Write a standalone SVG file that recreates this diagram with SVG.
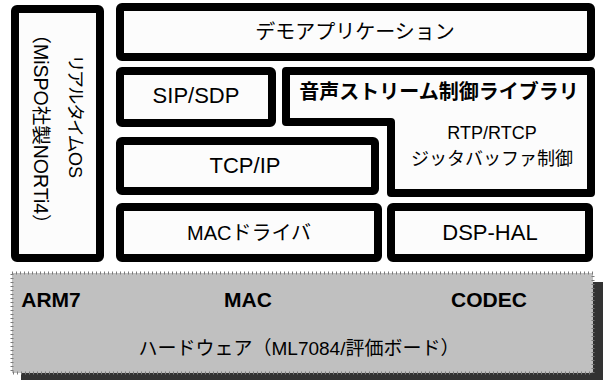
<svg xmlns="http://www.w3.org/2000/svg" width="604" height="382" viewBox="0 0 604 382">
<style>
.box{fill:#fcfcfc;stroke:#000;stroke-width:8;stroke-linejoin:round}
.t{font-family:"Liberation Sans","Noto Sans CJK JP",sans-serif;font-size:20px;fill:#000;text-anchor:middle}
.l{font-size:22px}
.s{font-size:18px}
.b{font-weight:bold}
.hb{font-size:21px;font-weight:bold}
.r{dominant-baseline:central}
</style>
<rect width="604" height="382" fill="#fff"/>
<g id="os">
<rect class="box" x="15" y="9" width="85" height="249" rx="2"/>
<text class="t r" transform="translate(75,117) rotate(90)" style="font-size:18px;font-feature-settings:'palt'">リアルタイムOS</text>
<text class="t r" transform="translate(41,129) rotate(90)" style="font-size:19.5px">（MiSPO社製NORTi4）</text>
</g>
<g id="app">
<rect class="box" x="120" y="7" width="471" height="50" rx="2"/>
<text class="t" x="355" y="39">デモアプリケーション</text>
</g>
<g id="sip">
<rect class="box" x="120" y="71" width="152" height="52" rx="2"/>
<text class="t l" x="196" y="103">SIP/SDP</text>
</g>
<g id="audio">
<path class="box" d="M286,71 H591 V193 H391 V122 H286 Z"/>
<text class="t b" x="439" y="99">音声ストリーム制御ライブラリ</text>
<text class="t s" x="492" y="139">RTP/RTCP</text>
<text class="t s" x="492" y="165">ジッタバッファ制御</text>
</g>
<g id="tcp">
<rect class="box" x="120" y="141" width="255" height="50" rx="2"/>
<text class="t l" x="245" y="173">TCP/IP</text>
</g>
<g id="macdrv">
<rect class="box" x="120" y="207" width="258" height="51" rx="2"/>
<text class="t" x="249" y="240">MACドライバ</text>
</g>
<g id="dsphal">
<rect class="box" x="391" y="207" width="198" height="51" rx="2"/>
<text class="t l" x="490" y="240">DSP-HAL</text>
</g>
<g id="hw">
<rect x="21" y="282" width="582" height="98" fill="#333"/>
<rect x="12" y="273" width="581" height="100" fill="#c0c0c0" stroke="#7a7a7a" stroke-width="3" stroke-dasharray="1 3"/>
<text class="t hb" x="51" y="307">ARM7</text>
<text class="t hb" x="248" y="307">MAC</text>
<text class="t hb" x="489" y="307">CODEC</text>
<text class="t" x="299" y="355" style="font-size:19px">ハードウェア（ML7084/評価ボード）</text>
</g>
<g id="connectors"></g>
</svg>
